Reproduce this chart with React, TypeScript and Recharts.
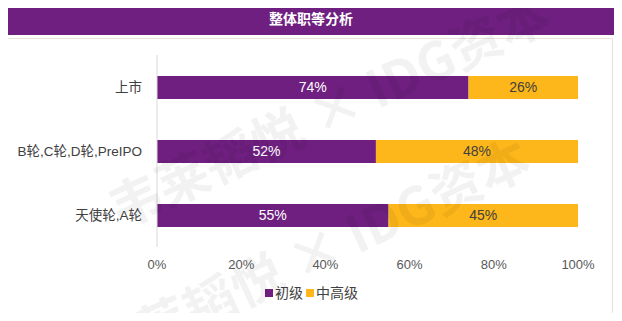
import { BarChart, Bar, XAxis, YAxis, LabelList } from "recharts"

const categories = ["上市", "B轮,C轮,D轮,PreIPO", "天使轮,A轮"]
const junior = [74, 52, 55]
const senior = [26, 48, 45]
const xTicks = [0, 20, 40, 60, 80, 100]
const seriesNames = ["初级", "中高级"]

const PURPLE = "#6E1F80"
const ORANGE = "#FDB71A"
const FONT = "'Liberation Sans', 'Noto Sans CJK SC', sans-serif"

const data = categories.map((name, i) => ({ name, junior: junior[i], senior: senior[i] }))

function Watermark({ left, top }: { left: number; top: number }) {
  return (
    <div
      style={{
        position: "absolute",
        left,
        top,
        fontSize: 52,
        fontWeight: 700,
        color: "rgba(0,0,0,0.05)",
        whiteSpace: "nowrap",
        transform: "rotate(-25deg)",
        transformOrigin: "left top",
        pointerEvents: "none",
        fontFamily: "'Noto Sans CJK SC', sans-serif",
      }}
    >
      韦莱韬悦 × IDG资本
    </div>
  )
}

export default function App() {
  const colors = [PURPLE, ORANGE]
  return (
    <div style={{ position: "relative", width: 622, height: 321, margin: -8, background: "#fff", overflow: "hidden", fontFamily: FONT }}>
      <div
        style={{
          position: "absolute",
          left: 6,
          top: 3,
          width: 610,
          height: 32,
          background: PURPLE,
          color: "#fff",
          fontWeight: 700,
          fontSize: 14,
          lineHeight: "32px",
          textAlign: "center",
        }}
      >
        整体职等分析
      </div>
      <div style={{ position: "absolute", left: 7, top: 38, width: 604, height: 274, border: "1px solid #E8E6DC" }} />
      <div style={{ position: "absolute", left: 0, top: 0 }}>
        <BarChart
          width={622}
          height={321}
          data={data}
          layout="vertical"
          margin={{ top: 55, right: 44, bottom: 44, left: 7 }}
          barSize={23}
          style={{ fontFamily: FONT }}
        >
          <XAxis
            type="number"
            domain={[0, 100]}
            ticks={xTicks}
            tickFormatter={(v) => `${v}%`}
            axisLine={false}
            tickLine={false}
            tick={{ fill: "#595959", fontSize: 13 }}
            tickMargin={7}
            interval={0}
          />
          <YAxis
            type="category"
            dataKey="name"
            width={150}
            axisLine={{ stroke: "#D9D9D9" }}
            tickLine={false}
            tick={{ fill: "#404040", fontSize: 13.5 }}
            tickMargin={9}
          />
          <Bar dataKey="junior" name="初级" stackId="a" fill={PURPLE} isAnimationActive={false}>
            <LabelList dataKey="junior" position="center" formatter={(v: number) => `${v}%`} fill="#fff" fontSize={14} />
          </Bar>
          <Bar dataKey="senior" name="中高级" stackId="a" fill={ORANGE} isAnimationActive={false}>
            <LabelList dataKey="senior" position="center" formatter={(v: number) => `${v}%`} fill="#404040" fontSize={14} />
          </Bar>
        </BarChart>
      </div>
      <div
        style={{
          position: "absolute",
          left: 0,
          width: 622,
          top: 283,
          display: "flex",
          justifyContent: "center",
          fontSize: 14,
          color: "#404040",
          lineHeight: "20px",
          paddingLeft: 4,
          boxSizing: "border-box",
        }}
      >
        {seriesNames.map((n, i) => (
          <span key={n} style={{ display: "flex", alignItems: "center", marginRight: 3 }}>
            <span style={{ display: "inline-block", width: 8, height: 8, background: colors[i], marginRight: 2 }} />
            {n}
          </span>
        ))}
      </div>
      <Watermark left={95} top={175} />
      <Watermark left={75} top={320} />
    </div>
  )
}
